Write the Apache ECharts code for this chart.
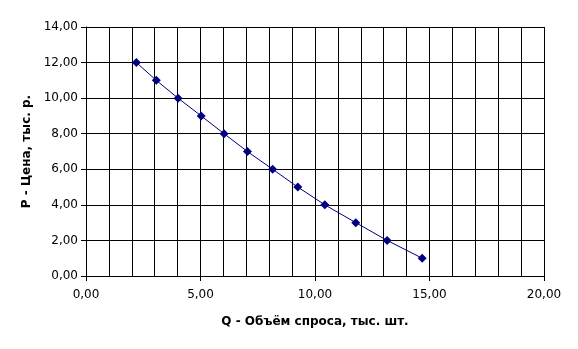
<!DOCTYPE html>
<html><head><meta charset="utf-8">
<script src="https://cdn.jsdelivr.net/npm/echarts@6/dist/echarts.min.js"></script>
<style>html,body{margin:0;padding:0;background:#fff}#c{width:578px;height:349px}</style>
</head><body><div id="c"></div>
<script>
const quantity = [2.2, 3.07, 4.02, 5.03, 6.03, 7.05, 8.15, 9.25, 10.43, 11.78, 13.15, 14.68];
const price = [12, 11, 10, 9, 8, 7, 6, 5, 4, 3, 2, 1];
const xName = 'Q - Объём спроса, тыс. шт.';
const yName = 'P - Цена, тыс. р.';
const fmt = v => v.toFixed(2).replace('.', ',');
const chart = echarts.init(document.getElementById('c'), null, {renderer: 'canvas'});
chart.setOption({
  animation: false,
  backgroundColor: '#fff',
  textStyle: {fontFamily: 'DejaVu Sans'},
  grid: {left: 86, right: 34, top: 27, bottom: 73, containLabel: false},
  xAxis: {
    type: 'value', min: 0, max: 20, interval: 5,
    name: xName, nameLocation: 'middle', nameGap: 40,
    nameTextStyle: {fontSize: 12, fontWeight: 'bold', color: '#000', fontFamily: 'DejaVu Sans'},
    axisLine: {show: true, lineStyle: {color: '#000', width: 1}},
    axisTick: {show: true, length: 5, lineStyle: {color: '#000'}},
    axisLabel: {formatter: fmt, fontSize: 12, color: '#000', margin: 13},
    splitLine: {show: true, lineStyle: {color: '#000', width: 1}},
    minorTick: {show: false, splitNumber: 5},
    minorSplitLine: {show: true, lineStyle: {color: '#000', width: 1}}
  },
  yAxis: {
    type: 'value', min: 0, max: 14, interval: 2,
    name: yName, nameLocation: 'middle', nameGap: 50, nameRotate: 90,
    nameTextStyle: {fontSize: 12, fontWeight: 'bold', color: '#000', fontFamily: 'DejaVu Sans'},
    axisLine: {show: true, lineStyle: {color: '#000', width: 1}},
    axisTick: {show: true, length: 5, lineStyle: {color: '#000'}},
    axisLabel: {formatter: fmt, fontSize: 12, color: '#000', margin: 8},
    splitLine: {show: true, lineStyle: {color: '#000', width: 1}}
  },
  series: [{
    type: 'line',
    data: quantity.map((q, i) => [q, price[i]]),
    symbol: 'diamond', symbolSize: 9,
    itemStyle: {color: '#000080'},
    lineStyle: {color: '#000080', width: 1}
  }]
});
</script></body></html>
